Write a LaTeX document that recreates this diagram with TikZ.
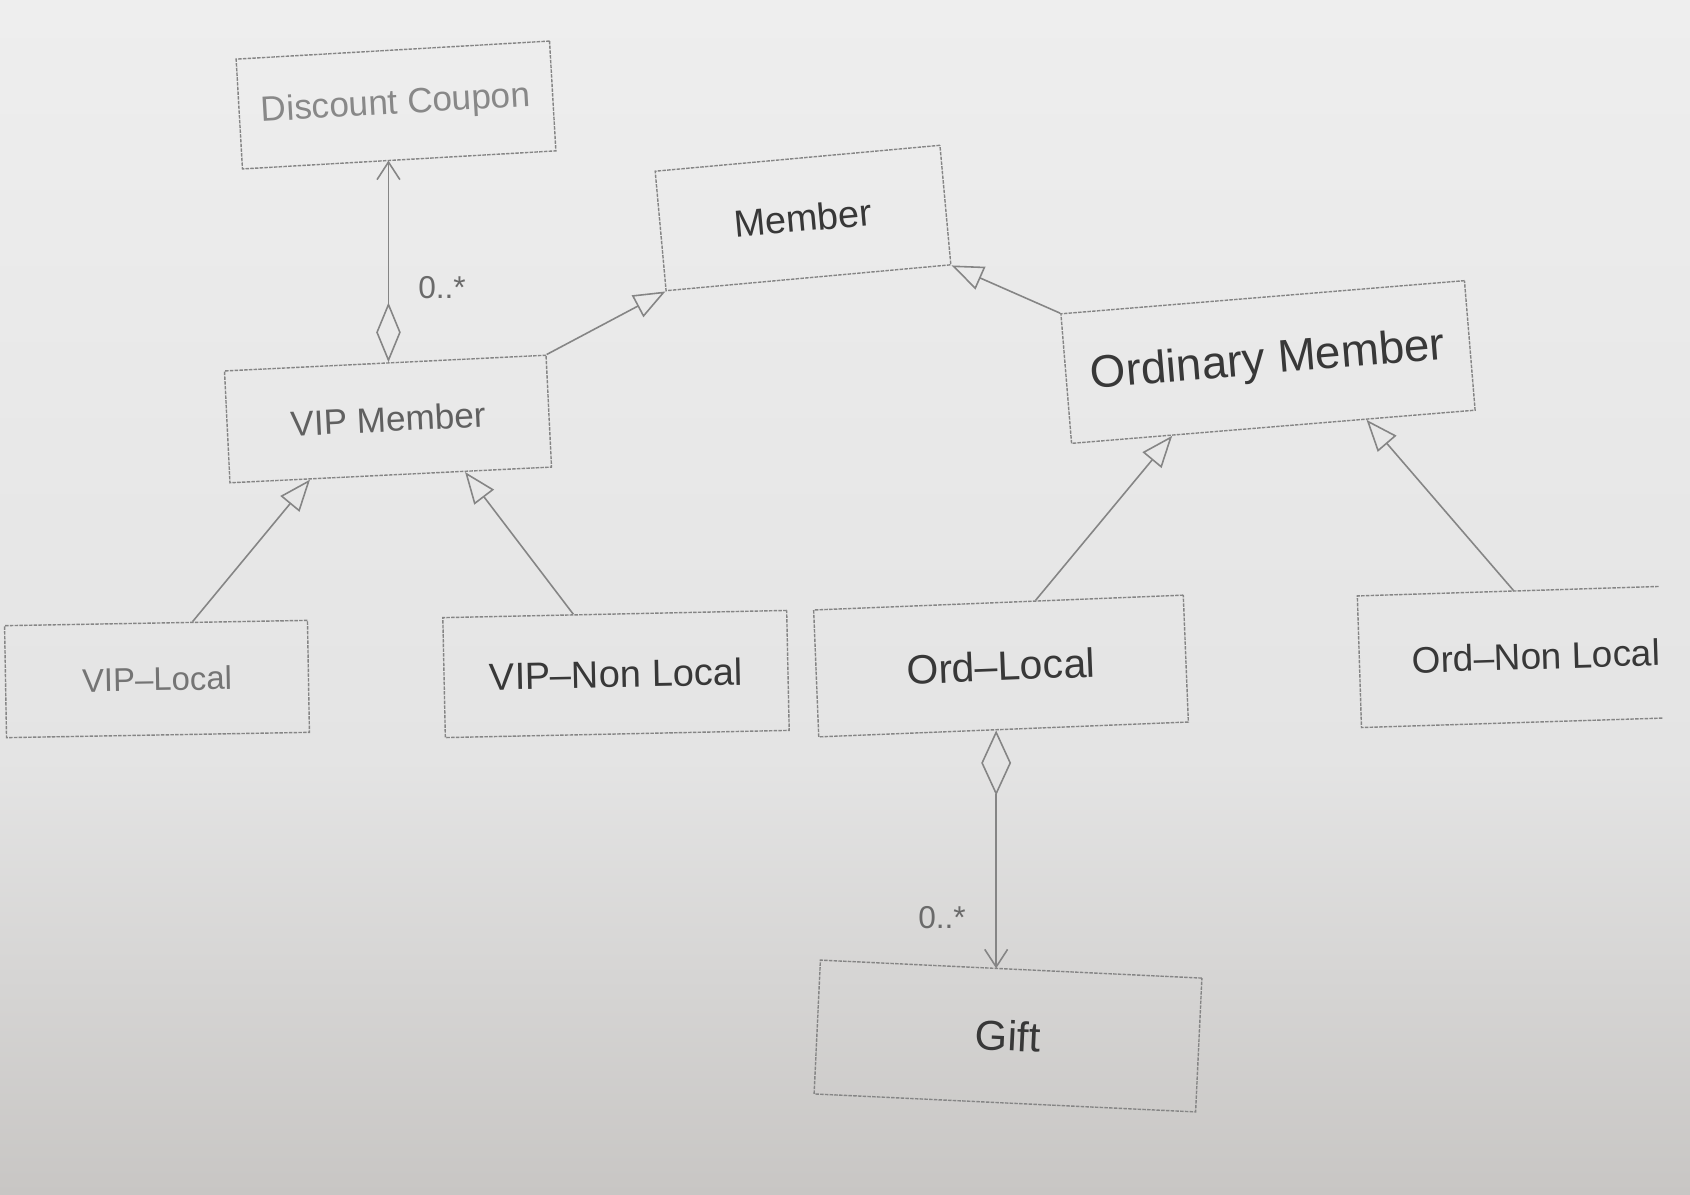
\documentclass[tikz,border=0pt]{standalone}
\usepackage{fontspec}
\setmainfont{Liberation Sans}
\usetikzlibrary{arrows.meta,calc}
\definecolor{bgtop}{HTML}{EEEEEE}
\definecolor{bgmid}{HTML}{E4E4E4}
\definecolor{bgbot}{HTML}{C8C6C4}
\definecolor{edge}{HTML}{858585}
\definecolor{ink}{HTML}{383838}
\tikzset{
  classbox/.style={draw=edge, line width=0.8pt, dash pattern=on 2pt off 0.7pt,
    inner sep=0pt, align=center, text=ink},
  openbox/.style={inner sep=0pt, align=center, text=ink},
  boxedge/.style={draw=edge, line width=0.8pt, dash pattern=on 2pt off 0.7pt},
  conn/.style={draw=edge, line width=0.9pt},
  gen/.style={conn, -{Triangle[open, length=18pt, width=14pt]}},
  agg/.style={conn, {Diamond[open, #1]}-{Straight Barb[length=10pt, width=13pt]}},
  mult/.style={text=ink!75, font=\fontsize{18}{20}\selectfont, inner sep=0pt},
}
\begin{document}
\begin{tikzpicture}[x=0.02cm,y=-0.02cm]
\useasboundingbox (0,0) rectangle (1690,1194);
\fill[top color=bgtop, bottom color=bgmid] (0,0) rectangle (1690,760);
\fill[top color=bgmid, bottom color=bgbot] (0,759) rectangle (1690,1194);

% classes
\node[classbox, minimum width=6.28cm, minimum height=2.2cm, rotate=3.3,
  text=ink!60, font=\fontsize{20}{24}\selectfont] (dc) at (396,105) {Discount Coupon};
\node[classbox, minimum width=5.72cm, minimum height=2.4cm, rotate=5.2,
  font=\fontsize{21.5}{26}\selectfont] (mem) at (803,218) {Member};
\node[classbox, minimum width=6.44cm, minimum height=2.24cm, rotate=2.8,
  text=ink!80, font=\fontsize{20}{24}\selectfont] (vip) at (388,419) {VIP Member};
\node[classbox, minimum width=8.1cm, minimum height=2.6cm, rotate=4.7,
  font=\fontsize{26}{30}\selectfont] (om) at (1268,362) {Ordinary Member};
\node[classbox, minimum width=6.06cm, minimum height=2.24cm, rotate=1.0,
  text=ink!70, font=\fontsize{18.7}{22}\selectfont] (vl) at (157,679) {VIP–Local};
\node[classbox, minimum width=6.88cm, minimum height=2.4cm, rotate=1.2,
  font=\fontsize{21.6}{26}\selectfont] (vnl) at (616,674) {VIP–Non Local};
\node[classbox, minimum width=7.4cm, minimum height=2.54cm, rotate=2.3,
  font=\fontsize{23.3}{28}\selectfont] (ol) at (1001,666) {Ord–Local};
\node[openbox, minimum width=5.84cm, minimum height=2.62cm, rotate=1.8,
  font=\fontsize{21}{25}\selectfont] (onl) at (1510,657) {\hspace*{1.05cm}Ord–Non Local};
\draw[boxedge] (onl.north east) -- (onl.north west) -- (onl.south west) -- (onl.south east);
\node[classbox, minimum width=7.64cm, minimum height=2.68cm, rotate=-2.7,
  font=\fontsize{23.8}{28}\selectfont] (gift) at (1008,1036) {Gift};

% multiplicities
\node[mult] (m1) at (442,288) {0..*};
\node[mult] (m2) at (942,918) {0..*};

% aggregations
\coordinate (vipt) at ($(vip.north west)!0.51!(vip.north east)$);
\draw[agg={length=34pt, width=14pt}] (vipt) -- (vipt |- dc.south);
\coordinate (olb) at ($(ol.south west)!0.48!(ol.south east)$);
\draw[agg={length=37pt, width=17pt}] (olb) -- (olb |- gift.north);

% generalizations
\draw[gen] (vip.north east) -- (mem.south west);
\draw[gen] (om.north west) -- (mem.south east);
\draw[gen] ($(vl.north west)!0.62!(vl.north east)$) -- ($(vip.south west)!0.25!(vip.south east)$);
\draw[gen] ($(vnl.north west)!0.38!(vnl.north east)$) -- ($(vip.south west)!0.73!(vip.south east)$);
\draw[gen] ($(ol.north west)!0.60!(ol.north east)$) -- ($(om.south west)!0.25!(om.south east)$);
\draw[gen] ($(onl.north west)!0.52!(onl.north east)$) -- ($(om.south west)!0.73!(om.south east)$);
\end{tikzpicture}
\end{document}
